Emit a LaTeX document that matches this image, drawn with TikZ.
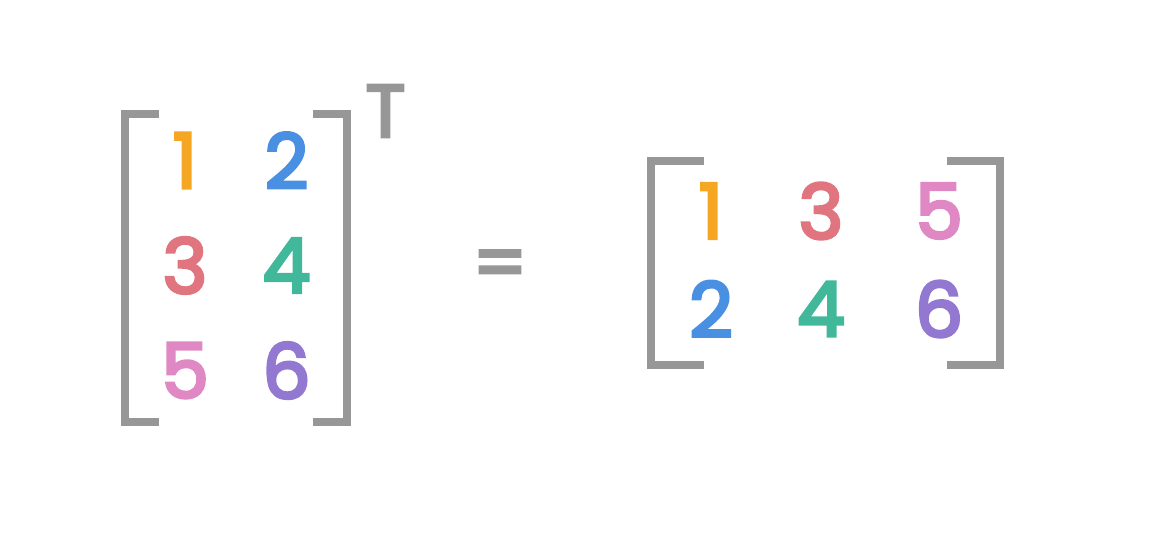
\documentclass[tikz,border=0pt]{standalone}
\usepackage{fontspec}
\setmainfont{Poppins}
\newfontfamily\entryfont{Poppins}[FakeBold=4]
\usepackage{xcolor}
\usepackage{tikz}

\definecolor{mgray}{HTML}{979797}
\definecolor{morange}{HTML}{F5A623}
\definecolor{mblue}{HTML}{4A90E2}
\definecolor{mred}{HTML}{E07580}
\definecolor{mgreen}{HTML}{42B89A}
\definecolor{mpink}{HTML}{E088C3}
\definecolor{mpurple}{HTML}{9278D1}

\tikzset{
  bracket/.style={draw=mgray, line width=8pt, line join=miter},
  entry/.style={inner sep=0pt, font=\fontsize{76}{80}\entryfont}
}

\begin{document}
\begin{tikzpicture}[x=1pt,y=-1pt]
  \useasboundingbox (0,0) rectangle (1160,549);
  % left matrix
  \draw[bracket] (159,114) -- (125,114) -- (125,422) -- (159,422);
  \draw[bracket] (313,114) -- (346.5,114) -- (346.5,422) -- (313,422);
  \node[entry, text=morange] (a11) at (185,160.5) {1};
  \node[entry, text=mblue] (a12) at (286.5,160.5) {2};
  \node[entry, text=mred] (a21) at (185,265.5) {3};
  \node[entry, text=mgreen] (a22) at (286.5,265.5) {4};
  \node[entry, text=mpink] (a31) at (185,370.5) {5};
  \node[entry, text=mpurple] (a32) at (286.5,370.5) {6};
  \node[entry, text=mgray, font=\fontsize{74}{80}\entryfont] (trans) at (385.5,111) {T};
  \node[entry, text=mgray] (eq) at (500,270) {=};
  % right matrix
  \draw[bracket] (704,161) -- (651,161) -- (651,365) -- (704,365);
  \draw[bracket] (947,161) -- (1000,161) -- (1000,365) -- (947,365);
  \node[entry, text=morange] (b11) at (711,211) {1};
  \node[entry, text=mred] (b12) at (821,211) {3};
  \node[entry, text=mpink] (b13) at (939,211) {5};
  \node[entry, text=mblue] (b21) at (711,309) {2};
  \node[entry, text=mgreen] (b22) at (821,309) {4};
  \node[entry, text=mpurple] (b23) at (939,309) {6};
\end{tikzpicture}
\end{document}
